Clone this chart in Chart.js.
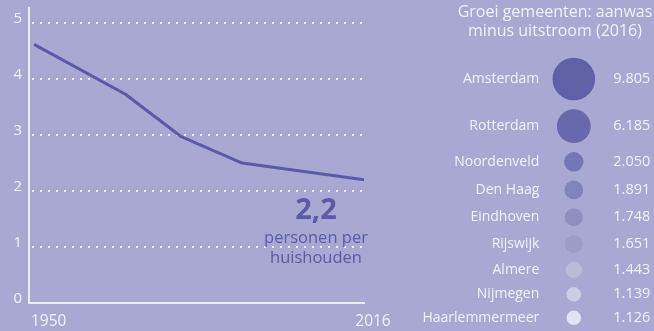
<!DOCTYPE html>
<html>
<head>
<meta charset="utf-8">
<script src="https://cdn.jsdelivr.net/npm/chart.js@4"></script>
<style>
  html, body { margin: 0; padding: 0; width: 654px; height: 331px; overflow: hidden; background: #a8a8d2; }
  body { position: relative; }
  #trend { position: absolute; left: 0; top: 0; }
  #growth { position: absolute; left: 400px; top: 0; }
</style>
</head>
<body>
<canvas id="trend" width="400" height="331"></canvas>
<canvas id="growth" width="310" height="331"></canvas>
<script>
// Average household size (persons per household)
const YEARS = [1951, 1969, 1980, 1992, 2016];
const PERSONS_PER_HOUSEHOLD = [4.62, 3.73, 2.97, 2.5, 2.2];
const X_TICKS = [1950, 2016];
const Y_TICKS = [0, 1, 2, 3, 4, 5];

// Municipal growth: inflow minus outflow (2016)
const MUNICIPALITIES = ['Amsterdam', 'Rotterdam', 'Noordenveld', 'Den Haag', 'Eindhoven',
  'Rijswijk', 'Almere', 'Nijmegen', 'Haarlemmermeer'];
const NET_GROWTH = [9805, 6185, 2050, 1891, 1748, 1651, 1443, 1139, 1126];
const BUBBLE_COLORS = ['#5f60a6', '#6869ab', '#7576b3', '#8283bb', '#8e8ec1',
  '#9c9cc8', '#babada', '#cdcde6', '#e3e3f1'];

const FONT = '"Open Sans", "Noto Sans", sans-serif';
const TEXT = '#f2f2f9';
const ACCENT = '#5a5aa6';
const AXIS = '#ececf3';

const fmtThousands = v => String(v).replace(/\B(?=(\d{3})+(?!\d))/g, '.');
const fmtDecimal = v => String(v).replace('.', ',');

// Year labels under the x axis: first one starts at the axis, last one sits past the end
const yearLabels = {
  id: 'yearLabels',
  afterDraw(chart) {
    const xs = chart.scales.x;
    const ctx = chart.ctx;
    ctx.save();
    ctx.font = '15.5px ' + FONT;
    ctx.fillStyle = TEXT;
    ctx.textBaseline = 'middle';
    xs.ticks.forEach((t, i) => {
      const last = i === xs.ticks.length - 1;
      const px = xs.getPixelForValue(t.value);
      ctx.textAlign = last ? 'center' : 'left';
      ctx.fillText(String(t.value), px + (last ? 9 : 2), xs.top + 19);
    });
    ctx.restore();
  }
};

// Callout with the latest value below the end of the line
const latestCallout = {
  id: 'latestCallout',
  afterDatasetsDraw(chart) {
    const xs = chart.scales.x, ys = chart.scales.y;
    const i = YEARS.length - 1;
    const px = xs.getPixelForValue(YEARS[i]);
    const py = ys.getPixelForValue(PERSONS_PER_HOUSEHOLD[i]);
    const cx = px - 48;
    const ctx = chart.ctx;
    ctx.save();
    ctx.fillStyle = ACCENT;
    ctx.textAlign = 'center';
    ctx.textBaseline = 'middle';
    ctx.font = 'bold 29px ' + FONT;
    ctx.fillText(fmtDecimal(PERSONS_PER_HOUSEHOLD[i]), cx, py + 31);
    ctx.font = '16.5px ' + FONT;
    ctx.fillText('personen per', cx, py + 58);
    ctx.fillText('huishouden', cx, py + 78);
    ctx.restore();
  }
};

new Chart(document.getElementById('trend'), {
  type: 'line',
  data: {
    datasets: [{
      data: YEARS.map((y, i) => ({ x: y, y: PERSONS_PER_HOUSEHOLD[i] })),
      borderColor: ACCENT,
      borderWidth: 3,
      borderJoinStyle: 'round',
      pointRadius: 0,
      tension: 0,
      fill: false
    }]
  },
  options: {
    responsive: false,
    animation: false,
    events: [],
    layout: { autoPadding: false, padding: { top: 8, right: 36, bottom: 0, left: 0 } },
    plugins: { legend: { display: false }, tooltip: { enabled: false } },
    scales: {
      x: {
        type: 'linear',
        min: X_TICKS[0],
        max: X_TICKS[X_TICKS.length - 1],
        afterBuildTicks: s => { s.ticks = X_TICKS.map(v => ({ value: v })); },
        afterFit: s => { s.height = 28; s.paddingLeft = 0; s.paddingRight = 0; },
        grid: { display: false },
        border: { display: true, color: AXIS, width: 2 },
        ticks: { display: false }
      },
      y: {
        min: 0,
        max: 5.27,
        afterBuildTicks: s => { s.ticks = Y_TICKS.map(v => ({ value: v })); },
        afterFit: s => { s.width = 29; s.paddingTop = 0; s.paddingBottom = 0; },
        grid: { color: '#eeeef6', lineWidth: 2, drawTicks: false },
        border: { display: true, color: AXIS, width: 2, dash: [2, 6], dashOffset: -2 },
        ticks: { color: TEXT, font: { family: FONT, size: 15 }, padding: 7, labelOffset: -4 }
      }
    }
  },
  plugins: [yearLabels, latestCallout]
});

// Rows stack the bubbles with a fixed gap between neighbouring circles
const RADIUS_PER_SQRT = 0.215;
const ROW_GAP = 9;
const radii = NET_GROWTH.map(v => RADIUS_PER_SQRT * Math.sqrt(v));
const rowY = [];
radii.forEach((r, i) => {
  rowY.push(i === 0 ? 37.6 : rowY[i - 1] + radii[i - 1] + r + ROW_GAP);
});

const rowTicks = s => { s.ticks = rowY.map(v => ({ value: v })); };

new Chart(document.getElementById('growth'), {
  type: 'bubble',
  data: {
    datasets: [{
      data: rowY.map((y, i) => ({ x: 0, y: y, r: radii[i] })),
      backgroundColor: BUBBLE_COLORS,
      borderWidth: 0,
      hoverBorderWidth: 0
    }]
  },
  options: {
    responsive: false,
    animation: false,
    events: [],
    layout: { autoPadding: false, padding: 0 },
    plugins: {
      legend: { display: false },
      tooltip: { enabled: false },
      title: {
        display: true,
        text: ['Groei gemeenten: aanwas', 'minus uitstroom (2016)'],
        color: TEXT,
        font: { family: FONT, size: 16, weight: 'normal', lineHeight: 1.2 },
        padding: { top: 3, bottom: 0 }
      }
    },
    scales: {
      x: { type: 'linear', display: false, min: -1, max: 1 },
      y: {
        type: 'linear',
        position: 'left',
        reverse: true,
        min: 0,
        max: 289.6,
        afterBuildTicks: rowTicks,
        afterFit: s => { s.width = 144.3; s.paddingTop = 0; s.paddingBottom = 0; },
        grid: { display: false, drawTicks: false },
        border: { display: false },
        ticks: {
          autoSkip: false,
          color: TEXT,
          font: { family: FONT, size: 14 },
          padding: 5,
          callback: (v, i) => MUNICIPALITIES[i]
        }
      },
      y2: {
        type: 'linear',
        position: 'right',
        reverse: true,
        min: 0,
        max: 289.6,
        afterBuildTicks: rowTicks,
        afterFit: s => { s.width = 106.7; s.paddingTop = 0; s.paddingBottom = 0; },
        grid: { display: false, drawTicks: false },
        border: { display: false },
        ticks: {
          autoSkip: false,
          color: TEXT,
          font: { family: FONT, size: 14.5 },
          padding: 10,
          callback: (v, i) => fmtThousands(NET_GROWTH[i])
        }
      }
    }
  }
});
</script>
</body>
</html>
